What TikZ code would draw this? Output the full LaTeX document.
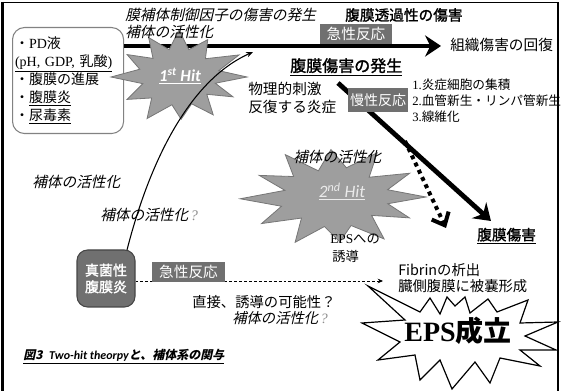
\documentclass[tikz,border=0pt]{standalone}
\usepackage{fontspec}
\setmainfont{Liberation Serif}
\newfontfamily\jp{Noto Sans CJK JP}
\newfontfamily\jpb{Noto Sans CJK JP}[FakeBold=1.6]
\newfontfamily\jpi{Noto Sans CJK JP}[FakeSlant=0.22]
\newfontfamily\calib{Carlito}
\usetikzlibrary{arrows.meta}
\definecolor{stargray}{RGB}{158,158,158}
\definecolor{starline}{RGB}{118,118,118}
\definecolor{labgray}{RGB}{112,112,112}
\definecolor{boxline}{RGB}{130,130,130}
\definecolor{fungline}{RGB}{70,70,70}
\begin{document}
\begin{tikzpicture}[x=0.75pt,y=-0.75pt,
  jt/.style={font=\jp\fontsize{11}{13}\selectfont, inner sep=0pt, anchor=west},
  ji/.style={font=\jpi\fontsize{11}{13}\selectfont, inner sep=0pt, anchor=west},
  lab/.style={fill=labgray, text=white, font=\jp\fontsize{11}{13}\selectfont, inner sep=0pt, minimum height=15pt},
  bigarrow/.style={line width=3.6pt, -{Stealth[length=12pt,width=16pt,inset=4pt]}},
  hitstar/.style={fill=stargray, draw=starline, line width=0.6pt},
]
\useasboundingbox (0,0) rectangle (561,391);
% frame
\draw[line width=1.3pt] (3,2.5) rectangle (558,393);
\draw[line width=2.6pt] (2.5,1.8) -- (2.5,391);

% source box
\node[draw=boxline, line width=0.8pt, rounded corners=9pt, minimum width=83.25pt, minimum height=79.5pt,
      text width=79.5pt, inner xsep=1.9pt, inner ysep=0pt, align=left, anchor=north west,
      font=\fontsize{10.5}{13.5}\selectfont] (src) at (12,27)
  {{\jp ・}PD{\jp 液}\\
   \underline{(pH, GDP, {\jp 乳酸})}\\
   {\jp ・腹膜の進展}\\
   {\jp ・\underline{腹膜炎}}\\
   {\jp ・\underline{尿毒素}}};

% thick horizontal arrow
\coordinate (h0) at (124,46);
\coordinate (h1) at (441,46);
\draw[bigarrow] (h0) -- (h1);

% 1st hit star
\path[hitstar] ({179+68},{77}) \foreach \a/\r in {14/0.55,28/0.9,42/0.55,58/0.95,72/0.6,88/0.9,100/0.6,118/1.0,132/0.6,148/0.9,165/0.55,180/1.0,196/0.6,212/0.9,226/0.55,242/0.95,256/0.6,270/1.0,284/0.6,298/0.9,315/0.55,332/1.0,347/0.6} { -- ({179+68*\r*cos(\a)},{77+47*\r*sin(\a)}) } -- cycle;
\node[inner sep=0pt, text=white, font=\calib\bfseries\itshape\fontsize{12.5}{14}\selectfont] (hit1) at (180,76) {\underline{1\textsuperscript{st} Hit}};

% top texts
\node[ji] (t1) at (125,15) {膜補体制御因子の傷害の発生};
\node[ji] (t2) at (125,32) {補体の活性化};
\node[jt, font=\jpb\fontsize{11}{13}\selectfont] (t3) at (345,15) {腹膜透過性の傷害};
\node[lab, minimum width=54pt] (acute1) at (356,34) {急性反応};
\node[jt] (recov) at (450,45) {組織傷害の回復};

% diagonal arrow
\coordinate (d0) at (338,83);
\coordinate (d1) at (491,221);
\draw[bigarrow] (d0) -- (d1);
\node[jt, font=\jpb\fontsize{12}{14}\selectfont] (dmg) at (290,67) {\underline{腹膜傷害の発生}};
\node[jt] (phys1) at (248,89) {物理的刺激};
\node[jt] (phys2) at (248,107) {反復する炎症};
\node[lab, minimum width=45pt, minimum height=18pt, font=\jp\fontsize{10.5}{12}\selectfont] (chronic) at (378,100) {慢性反応};
\node[jt, font=\jp\fontsize{9.5}{12}\selectfont] (l1) at (412,85) {{\rmfamily 1.}炎症細胞の集積};
\node[jt, font=\jp\fontsize{9.5}{12}\selectfont] (l2) at (412,101) {{\rmfamily 2.}血管新生・リンパ管新生};
\node[jt, font=\jp\fontsize{9.5}{12}\selectfont] (l3) at (412,117) {{\rmfamily 3.}線維化};

% 2nd hit star
\path[hitstar] ({334+92},{197}) \foreach \a/\r in {13/0.6,27/0.92,42/0.55,57/1.0,72/0.6,86/0.9,100/0.6,115/1.0,130/0.55,146/0.95,162/0.6,178/1.02,194/0.55,208/0.92,223/0.6,238/1.0,252/0.55,268/0.95,283/0.6,298/1.0,314/0.55,330/0.95,346/0.6} { -- ({334+92*\r*cos(\a)},{197+50*\r*sin(\a)}) } -- cycle;
\node[inner sep=0pt, text=black!8, font=\calib\itshape\fontsize{13}{15}\selectfont] (hit2) at (342,192) {\underline{2\textsuperscript{nd} Hit}};
\node[ji] (t4) at (293,157) {補体の活性化};
\node[jt, font=\jp\fontsize{10}{12}\selectfont] (eps1) at (330,239) {{\rmfamily EPS}への};
\node[jt, font=\jp\fontsize{10}{12}\selectfont] (eps2) at (332,256) {誘導};

% dotted arrow
\coordinate (p0) at (405,141);
\coordinate (p1) at (446,228);
\draw[line width=3pt, dash pattern=on 3pt off 3pt, -{Straight Barb[length=8pt,width=14pt]}] (p0) -- (p1);
\node[jt, font=\jpb\fontsize{11}{13}\selectfont] (dmg2) at (477,236) {\underline{腹膜傷害}};

% left italic texts
\node[ji] (t5) at (32,182) {補体の活性化};
\node[ji] (t6) at (100,215) {補体の活性化{\color{black!45}\rmfamily\itshape\,?}};

% fungal box
\node[draw=fungline, fill=labgray, rounded corners=8pt, minimum width=43.5pt, minimum height=42.75pt,
      text=white, font=\jpb\fontsize{10.5}{12.5}\selectfont, align=center, inner sep=0pt,
      line width=0.8pt] (fungal) at (106,278.5) {真菌性\\腹膜炎};
\coordinate (e1) at (383,281);
\draw[line width=0.6pt, dash pattern=on 2.2pt off 1.5pt, -{Stealth[length=4pt,width=3.5pt]}] (fungal.east |- e1) -- (e1);
\node[lab, minimum width=54.75pt] (acute2) at (188.5,272) {急性反応};
\node[jt, font=\jp\fontsize{10.75}{13}\selectfont] (t7) at (192,302) {直接、誘導の可能性？};
\node[ji, font=\jpi\fontsize{10.75}{13}\selectfont] (t8) at (232,318) {補体の活性化{\color{black!45}\rmfamily\itshape\,?}};

% curve
\coordinate (c0) at (127,250);
\coordinate (c1) at (253,52);
\draw[line width=0.8pt, -{Stealth[length=5pt,width=4pt]}] (c0) .. controls (150,160) and (190,80) .. (c1);

% EPS star
\draw[fill=white, line width=0.9pt] (368,286) -- (420,312) -- (430,298) -- (440,314) -- (447,297) -- (455,306)
  -- (465,297) -- (470,313) -- (488,299) -- (497,312) -- (528,300) -- (520,323) -- (558,322)
  -- (525,336) -- (556,350) -- (520,350) -- (540,366) -- (500,358) -- (490,383) -- (475,362)
  -- (452,389) -- (440,360) -- (420,380) -- (415,355) -- (378,360) -- (400,342) -- (362,323)
  -- (405,320) -- cycle;
\node[jt, font=\jp\fontsize{10.75}{13}\selectfont] (fib1) at (398,270) {Fibrinの析出};
\node[jt, font=\jp\fontsize{10.75}{13}\selectfont] (fib2) at (398,286) {臓側腹膜に被嚢形成};
\node[inner sep=0pt, font=\jp\bfseries\fontsize{21}{24}\selectfont] (epsok) at (458,331) {{\rmfamily\bfseries EPS}成立};

% caption
\node[anchor=west, inner sep=0pt, font=\fontsize{9}{11}\selectfont] (cap) at (23,357)
  {\underline{{\jpi\bfseries 図3}\hspace{5pt}{\calib\itshape\bfseries Two-hit theorpy}{\jpi\bfseries と、補体系の関与}}};
\end{tikzpicture}
\end{document}
